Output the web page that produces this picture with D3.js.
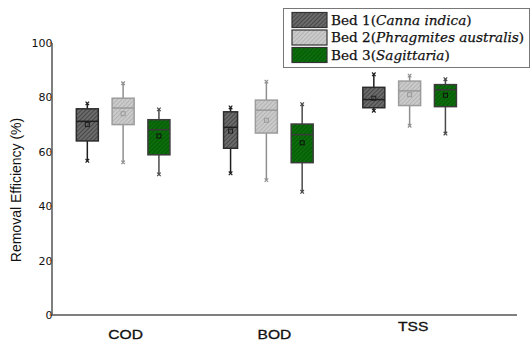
<!DOCTYPE html>
<html><head><meta charset="utf-8">
<script src="https://cdn.jsdelivr.net/npm/d3@7"></script>
<style>body{margin:0;background:#fff}svg{display:block}</style>
</head><body>
<script>
// ---- data ----
const categories = ["COD", "BOD", "TSS"];
const beds = ["Bed 1", "Bed 2", "Bed 3"];
const species = ["Canna indica", "Phragmites australis", "Sagittaria"];
const yTicks = [0, 20, 40, 60, 80, 100];
// per category, per bed: [whiskerLow, q1, median, q3, whiskerHigh, mean]
const bed1Stats = [[56.7, 64, 71.2, 75.8, 77.8, 70], [52.1, 61.3, 69, 74.7, 76.3, 67.6], [75.1, 76.2, 79.2, 83.7, 88.5, 79.7]];
const bed2Stats = [[56.1, 70, 76.1, 79.7, 85.2, 74], [49.6, 66.9, 75.3, 79, 85.8, 71.6], [69.6, 77, 82.4, 86, 88, 81]];
const bed3Stats = [[51.7, 58.9, 68.1, 71.8, 75.6, 65.8], [45.3, 56, 66.3, 70.2, 77.5, 63.3], [66.7, 76.6, 82.8, 84.7, 86.7, 80.8]];
const allStats = [bed1Stats, bed2Stats, bed3Stats];

// ---- layout / style ----
const W = 531, H = 343;
const axisX = 52, axisY = 315, axisTop = 43, axisRight = 517;
const styles = [
  {fill: "#6b6b6b", hatch: "#474747", stroke: "#2b2b2b", whisk: "#1e1e1e", med: "#1e1e1e"},
  {fill: "#cbcbcb", hatch: "#b3b3b3", stroke: "#9c9c9c", whisk: "#8f8f8f", med: "#999"},
  {fill: "#0b6e0b", hatch: "#075807", stroke: "#3c3c3c", whisk: "#4a4a4a", med: "#3a3a3a"}
];

const svg = d3.select("body").append("svg").attr("width", W).attr("height", H);
const defs = svg.append("defs");
styles.forEach((s, i) => {
  const p = defs.append("pattern").attr("id", "hatch" + i).attr("patternUnits", "userSpaceOnUse")
    .attr("width", 3).attr("height", 3).attr("patternTransform", "rotate(45)");
  p.append("rect").attr("width", 3).attr("height", 3).attr("fill", s.fill);
  p.append("line").attr("x1", 0.5).attr("y1", 0).attr("x2", 0.5).attr("y2", 3)
    .attr("stroke", s.hatch).attr("stroke-width", 1);
});

const y = d3.scaleLinear().domain([0, 100]).range([axisY, axisTop]);
const x = d3.scaleBand().domain(categories).range([51.5, 481.25]).padding(0);
const xb = d3.scaleBand().domain(beds).range([-53.7, 53.7]).padding(0);

// y axis ticks labels
const yAxis = svg.append("g");
yAxis.selectAll("line.tk").data(yTicks).join("line")
  .attr("x1", axisX - 2.5).attr("x2", axisX).attr("y1", d => y(d)).attr("y2", d => y(d))
  .attr("stroke", "#e0902a").attr("stroke-width", 1.5);
yAxis.selectAll("text").data(yTicks).join("text")
  .attr("x", axisX + 0.5).attr("y", d => y(d)).attr("dy", "0.36em")
  .attr("text-anchor", "end").attr("font-family", "DejaVu Sans").attr("font-size", 11)
  .attr("fill", "#111").text(d => d);

// axes lines
svg.append("line").attr("x1", axisX).attr("x2", axisX).attr("y1", axisTop).attr("y2", axisY)
  .attr("stroke", "#555").attr("stroke-width", 1.5);
svg.append("line").attr("x1", axisX).attr("x2", axisRight).attr("y1", axisY).attr("y2", axisY)
  .attr("stroke", "#555").attr("stroke-width", 1.5);

// y label
svg.append("text").attr("transform", `translate(21,190) rotate(-90)`)
  .attr("text-anchor", "middle").attr("font-family", "Liberation Sans").attr("font-size", 14)
  .attr("fill", "#111").text("Removal Efficiency (%)");

// category labels
const labelOffsets = [[2.5, 338.5], [8, 338.5], [3.5, 331]];
svg.selectAll("text.cat").data(categories).join("text").attr("class", "cat")
  .attr("transform", (d, i) => `translate(${x(d) + x.bandwidth() / 2 + labelOffsets[i][0]},${labelOffsets[i][1]}) scale(1.3,1)`)
  .attr("text-anchor", "middle").attr("font-family", "Liberation Sans")
  .attr("font-size", 12).attr("fill", "#111").attr("stroke", "#111").attr("stroke-width", 0.3)
  .text(d => d);

// boxes
const narrow = {"BOD|Bed 1": 14};
beds.forEach((b, bi) => {
  const st = styles[bi];
  categories.forEach((c, ci) => {
    const [lo, q1, med, q3, hi, mean] = allStats[bi][ci];
    const cx = x(c) + x.bandwidth() / 2 + xb(b) + xb.bandwidth() / 2;
    const bw = narrow[c + "|" + b] || 22;
    const g = svg.append("g");
    g.append("line").attr("x1", cx).attr("x2", cx).attr("y1", y(hi)).attr("y2", y(q3))
      .attr("stroke", st.whisk).attr("stroke-width", 1.5);
    g.append("line").attr("x1", cx).attr("x2", cx).attr("y1", y(q1)).attr("y2", y(lo))
      .attr("stroke", st.whisk).attr("stroke-width", 1.5);
    [hi, lo].forEach(v => {
      g.append("path").attr("d", d3.symbol(d3.symbolX, 10)())
        .attr("transform", `translate(${cx},${y(v)})`)
        .attr("stroke", st.whisk).attr("stroke-width", 1.2).attr("fill", "none");
    });
    g.append("rect").attr("x", cx - bw / 2).attr("y", y(q3)).attr("width", bw).attr("height", y(q1) - y(q3))
      .attr("fill", `url(#hatch${bi})`).attr("stroke", st.stroke).attr("stroke-width", 1.5);
    g.append("line").attr("x1", cx - bw / 2).attr("x2", cx + bw / 2).attr("y1", y(med)).attr("y2", y(med))
      .attr("stroke", st.med).attr("stroke-width", 1.5);
    g.append("rect").attr("x", cx - 2).attr("y", y(mean) - 2).attr("width", 4).attr("height", 4)
      .attr("fill", "none").attr("stroke", bi === 2 ? "#111" : st.med).attr("stroke-width", 1);
  });
});

// legend
const lg = svg.append("g");
lg.append("rect").attr("x", 283.5).attr("y", 8.5).attr("width", 246).attr("height", 59)
  .attr("fill", "#fff").attr("stroke", "#777").attr("stroke-width", 1);
const rowY = [12.5, 30, 47.5];
beds.forEach((b, i) => {
  lg.append("rect").attr("x", 292).attr("y", rowY[i]).attr("width", 35).attr("height", 15)
    .attr("fill", `url(#hatch${i})`).attr("stroke", "#333").attr("stroke-width", 1.2);
  const t = lg.append("text").attr("x", 331).attr("y", rowY[i] + 12)
    .attr("font-family", "DejaVu Serif").attr("font-size", 13.6).attr("fill", "#111")
    .attr("stroke", "#111").attr("stroke-width", 0.25);
  t.append("tspan").text(b + "(");
  t.append("tspan").attr("font-style", "italic").text(species[i]);
  t.append("tspan").text(")");
});
</script>
</body></html>
